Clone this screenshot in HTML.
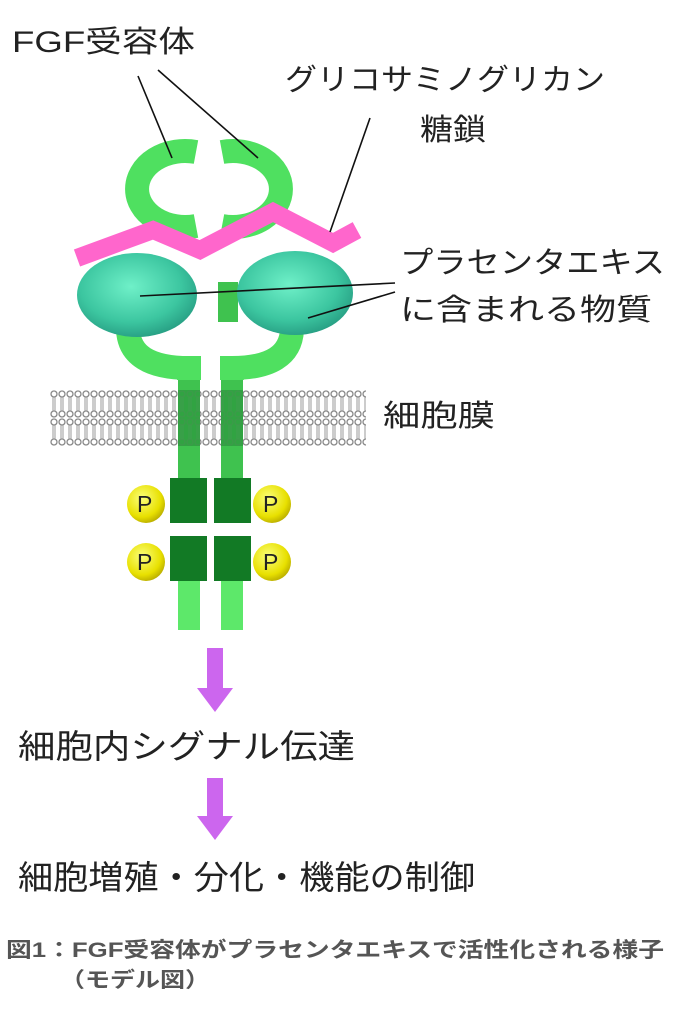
<!DOCTYPE html>
<html><head><meta charset="utf-8"><style>
html,body{margin:0;padding:0;background:#fff}
svg{display:block}
text{font-family:"Liberation Sans","Noto Sans CJK JP",sans-serif;fill:#222}
</style></head><body>
<svg width="698" height="1016" viewBox="0 0 698 1016" xmlns="http://www.w3.org/2000/svg">
<defs>
<radialGradient id="teal" cx="0.45" cy="0.4" r="0.7">
<stop offset="0" stop-color="#6ff0c8"/><stop offset="0.6" stop-color="#3cc6a0"/><stop offset="1" stop-color="#1f8f78"/></radialGradient>
<radialGradient id="yel" cx="0.4" cy="0.35" r="0.7">
<stop offset="0" stop-color="#fbff7a"/><stop offset="0.7" stop-color="#e8e000"/><stop offset="1" stop-color="#b5a800"/></radialGradient>
<pattern id="mem" x="50" y="390" width="8" height="28" patternUnits="userSpaceOnUse">
<circle cx="4" cy="4" r="3" fill="none" stroke="#888" stroke-width="1.3"/>
<line x1="3" y1="7" x2="3" y2="14" stroke="#999" stroke-width="1"/>
<line x1="5" y1="7" x2="5" y2="14" stroke="#999" stroke-width="1"/>
<circle cx="4" cy="24" r="3" fill="none" stroke="#888" stroke-width="1.3"/>
<line x1="3" y1="14" x2="3" y2="21" stroke="#999" stroke-width="1"/>
<line x1="5" y1="14" x2="5" y2="21" stroke="#999" stroke-width="1"/>
</pattern>
</defs>

<rect x="178" y="365" width="22" height="120" fill="#3fc24f"/>
<rect x="221" y="365" width="22" height="120" fill="#3fc24f"/>
<rect x="178" y="580" width="22" height="50" fill="#5de86a"/>
<rect x="221" y="580" width="22" height="50" fill="#5de86a"/>

<rect x="50" y="390" width="316" height="56" fill="url(#mem)"/>
<rect x="178" y="390" width="22" height="56" fill="#2f9e3f" opacity="0.85"/>
<rect x="221" y="390" width="22" height="56" fill="#2f9e3f" opacity="0.85"/>

<path d="M196,152 A48,38 0 1 0 196,226" fill="none" stroke="#4fe060" stroke-width="24"/>
<path d="M222,152 A48,38 0 1 1 222,226" fill="none" stroke="#4fe060" stroke-width="24"/>
<path d="M128,330 Q130,368 189,368 L189,380" fill="none" stroke="#4fe060" stroke-width="24"/>
<path d="M292,330 Q290,368 232,368 L232,380" fill="none" stroke="#4fe060" stroke-width="24"/>
<rect x="218" y="282" width="20" height="40" fill="#3fc24f"/>

<polyline points="77,258 153,230 200,250 273,212 333,243 357,230" fill="none" stroke="#ff66cc" stroke-width="18" stroke-linejoin="miter"/>

<ellipse cx="137" cy="295" rx="60" ry="42" fill="url(#teal)"/>
<ellipse cx="295" cy="293" rx="58" ry="42" fill="url(#teal)"/>

<rect x="170" y="478" width="37" height="45" fill="#127a25"/>
<rect x="214" y="478" width="37" height="45" fill="#127a25"/>
<rect x="170" y="536" width="37" height="45" fill="#127a25"/>
<rect x="214" y="536" width="37" height="45" fill="#127a25"/>
<g font-size="23">
<circle cx="146" cy="504" r="19" fill="url(#yel)"/><text x="137" y="512">P</text>
<circle cx="272" cy="504" r="19" fill="url(#yel)"/><text x="263" y="512">P</text>
<circle cx="146" cy="562" r="19" fill="url(#yel)"/><text x="137" y="570">P</text>
<circle cx="272" cy="562" r="19" fill="url(#yel)"/><text x="263" y="570">P</text>
</g>

<g stroke="#111" stroke-width="1.6">
<line x1="138" y1="76" x2="172" y2="158"/>
<line x1="158" y1="70" x2="258" y2="158"/>
<line x1="370" y1="118" x2="330" y2="232"/>
<line x1="395" y1="283" x2="140" y2="296"/>
<line x1="395" y1="292" x2="308" y2="318"/>
</g>

<g font-size="30">
<text x="12" y="52" textLength="183" lengthAdjust="spacingAndGlyphs">FGF受容体</text>
<text x="285" y="90" textLength="320" lengthAdjust="spacingAndGlyphs">グリコサミノグリカン</text>
<text x="420" y="140" textLength="66" lengthAdjust="spacingAndGlyphs">糖鎖</text>
<text x="400" y="273" textLength="265" lengthAdjust="spacingAndGlyphs">プラセンタエキス</text>
<text x="400" y="320" textLength="252" lengthAdjust="spacingAndGlyphs">に含まれる物質</text>
<text x="383" y="426" textLength="112" lengthAdjust="spacingAndGlyphs">細胞膜</text>
</g>

<g fill="#cc66ee">
<rect x="207" y="648" width="16" height="42"/><polygon points="197,688 233,688 215,712"/>
<rect x="207" y="778" width="16" height="40"/><polygon points="197,816 233,816 215,840"/>
</g>
<g font-size="33">
<text x="18" y="758" textLength="337" lengthAdjust="spacingAndGlyphs">細胞内シグナル伝達</text>
<text x="18" y="889" textLength="457" lengthAdjust="spacingAndGlyphs">細胞増殖・分化・機能の制御</text>
</g>
<g font-size="21" font-weight="bold">
<text x="6" y="957" style="fill:#555" textLength="658" lengthAdjust="spacingAndGlyphs">図1：FGF受容体がプラセンタエキスで活性化される様子</text>
<text x="60" y="987" style="fill:#555" textLength="150" lengthAdjust="spacingAndGlyphs">（モデル図）</text>
</g>
</svg>
</body></html>
